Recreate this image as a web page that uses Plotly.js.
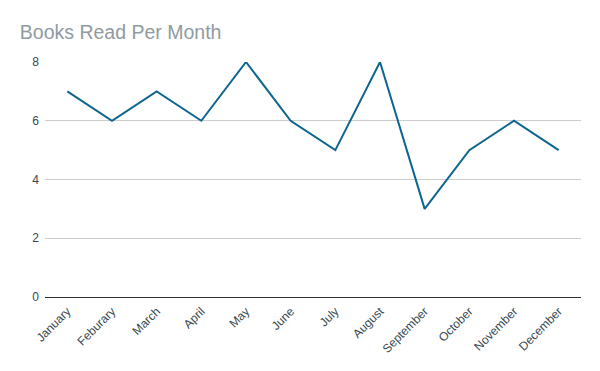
<!DOCTYPE html>
<html><head><meta charset="utf-8">
<script src="https://cdn.plot.ly/plotly-3.0.1.min.js"></script>
<style>body{margin:0}#c{width:600px;height:371px}</style>
</head><body><div id="c"></div>
<script>
const months = ["January","Feburary","March","April","May","June","July","August","September","October","November","December"];
const books = [7,6,7,6,8,6,5,8,3,5,6,5];
const yTicks = [0,2,4,6,8];

Plotly.newPlot('c', [{
  x: months, y: books, type: 'scatter', mode: 'lines',
  line: {color: '#0e6490', width: 2}
}], {
  width: 600, height: 371,
  margin: {l: 45, r: 19, t: 62, b: 74},
  paper_bgcolor: '#fff', plot_bgcolor: '#fff',
  title: {text: 'Books Read Per Month', x: 0.033, xanchor: 'left', y: 0.896, yanchor: 'bottom',
    font: {family: 'Arial, "Liberation Sans", sans-serif', size: 19.5, color: '#8f9aa2'}},
  showlegend: false,
  xaxis: {type: 'category', range: [-0.5, 11.5], tickangle: -45, showgrid: false, zeroline: false,
    showline: false, ticks: '', ticklabelstandoff: 4,
    tickfont: {family: 'Arial, "Liberation Sans", sans-serif', size: 12, color: '#37474f'}},
  yaxis: {range: [0, 8], tickvals: yTicks, showgrid: true, gridcolor: '#cccccc', gridwidth: 1,
    zeroline: true, zerolinecolor: '#333333', zerolinewidth: 1, ticks: '', ticklabelstandoff: 5,
    tickfont: {family: 'Arial, "Liberation Sans", sans-serif', size: 12, color: '#37474f'}}
}, {displayModeBar: false, staticPlot: true});
</script></body></html>
